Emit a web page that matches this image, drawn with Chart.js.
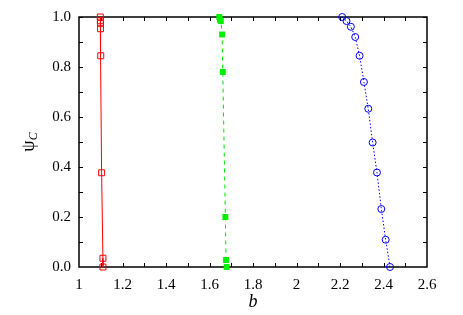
<!DOCTYPE html>
<html>
<head>
<script src="https://cdn.jsdelivr.net/npm/chart.js@4.4.0/dist/chart.umd.min.js"></script>
</head>
<body style="margin:0">
<canvas id="psiChart" width="463" height="315"></canvas>
<script>
// datos
const redB   = [1.098, 1.098, 1.099, 1.099, 1.100, 1.104, 1.110, 1.110];
const redPsi = [1.000, 0.985, 0.975, 0.953, 0.845, 0.377, 0.035, 0.000];

const greenB   = [1.645, 1.648, 1.652, 1.658, 1.661, 1.673, 1.676, 1.679];
const greenPsi = [1.000, 0.990, 0.984, 0.930, 0.780, 0.200, 0.028, 0.000];

const blueB   = [2.21, 2.23, 2.25, 2.27, 2.29, 2.31, 2.33, 2.35, 2.37, 2.39, 2.41, 2.43];
const bluePsi = [1.000, 0.984, 0.961, 0.920, 0.845, 0.740, 0.633, 0.498, 0.378, 0.232, 0.109, 0.000];

const xTicks = [1, 1.2, 1.4, 1.6, 1.8, 2, 2.2, 2.4, 2.6];
const yTicks = [0.0, 0.2, 0.4, 0.6, 0.8, 1.0];

const FONT = 'Liberation Serif, serif';

function puntos(xs, ys) {
    return xs.map((x, i) => ({ x: x, y: ys[i] }));
}

// ticks hacia adentro en los cuatro lados + titulos de ejes
const marcoPlugin = {
    id: 'marco',
    beforeDatasetsDraw(chart) {
        const ctx = chart.ctx;
        const a = chart.chartArea;
        const xs = chart.scales.x;
        const ys = chart.scales.y;
        ctx.save();
        ctx.strokeStyle = '#000';
        ctx.lineWidth = 1;
        ctx.beginPath();
        for (let v = 1.1; v < 2.6; v += 0.1) {
            const px = Math.round(xs.getPixelForValue(v)) + 0.5;
            ctx.moveTo(px, a.bottom); ctx.lineTo(px, a.bottom - 4);
            ctx.moveTo(px, a.top); ctx.lineTo(px, a.top + 4);
        }
        for (let v = 0.1; v < 1.0; v += 0.1) {
            const py = Math.round(ys.getPixelForValue(v)) + 0.5;
            ctx.moveTo(a.left, py); ctx.lineTo(a.left + 4, py);
            ctx.moveTo(a.right, py); ctx.lineTo(a.right - 4, py);
        }
        ctx.stroke();
        ctx.lineWidth = 1.5;
        ctx.strokeRect(a.left, a.top, a.right - a.left, a.bottom - a.top);
        ctx.restore();
    },
    afterDraw(chart) {
        const ctx = chart.ctx;
        const a = chart.chartArea;
        ctx.save();
        ctx.fillStyle = '#000';
        // titulo eje x
        ctx.font = 'italic 18px ' + FONT;
        ctx.textAlign = 'center';
        ctx.textBaseline = 'middle';
        ctx.fillText('b', (a.left + a.right) / 2, 302);
        // titulo eje y: psi con subindice C
        ctx.translate(29, (a.top + a.bottom) / 2);
        ctx.rotate(-Math.PI / 2);
        ctx.textAlign = 'left';
        ctx.font = '18px ' + FONT;
        const w1 = ctx.measureText('\u03C8').width;
        ctx.font = 'italic 12px ' + FONT;
        const w2 = ctx.measureText('C').width;
        const x0 = -(w1 + w2) / 2;
        ctx.font = '18px ' + FONT;
        ctx.fillText('\u03C8', x0, 0);
        ctx.font = 'italic 12px ' + FONT;
        ctx.fillText('C', x0 + w1, 5);
        ctx.restore();
    }
};

const psiChart = new Chart(document.getElementById('psiChart').getContext('2d'), {
    type: 'scatter',
    data: {
        datasets: [{
            data: puntos(redB, redPsi),
            showLine: true,
            clip: false,
            borderColor: '#ff0000',
            borderWidth: 1,
            pointStyle: 'rect',
            pointRadius: 4.2,
            pointBorderWidth: 1,
            pointBorderColor: '#ff0000',
            pointBackgroundColor: 'rgba(0,0,0,0)'
        }, {
            data: puntos(greenB, greenPsi),
            showLine: true,
            clip: false,
            borderColor: '#00e000',
            borderWidth: 1,
            borderDash: [4, 4],
            pointStyle: 'rect',
            pointRadius: 4.2,
            pointBorderWidth: 0,
            pointBackgroundColor: '#00ee00'
        }, {
            data: puntos(blueB, bluePsi),
            showLine: true,
            clip: false,
            borderColor: '#0000ff',
            borderWidth: 1,
            borderDash: [1.5, 2],
            pointStyle: 'circle',
            pointRadius: 3.5,
            pointBorderWidth: 1,
            pointBorderColor: '#0000ff',
            pointBackgroundColor: 'rgba(0,0,0,0)'
        }]
    },
    options: {
        responsive: false,
        animation: false,
        layout: { padding: { left: 0, right: 36, top: 16, bottom: 0 } },
        plugins: {
            legend: { display: false },
            tooltip: { enabled: false }
        },
        scales: {
            x: {
                type: 'linear',
                min: 1,
                max: 2.6,
                afterBuildTicks: s => { s.ticks = xTicks.map(v => ({ value: v })); },
                afterFit: s => { s.height = 48; },
                grid: { display: false, drawTicks: false },
                border: { display: false },
                ticks: {
                    color: '#000',
                    padding: 9,
                    font: { family: FONT, size: 15 },
                    callback: v => String(+v.toFixed(1))
                }
            },
            y: {
                type: 'linear',
                min: 0,
                max: 1,
                afterBuildTicks: s => { s.ticks = yTicks.map(v => ({ value: v })); },
                afterFit: s => { s.width = 79; },
                grid: { display: false, drawTicks: false },
                border: { display: false },
                ticks: {
                    color: '#000',
                    padding: 8,
                    font: { family: FONT, size: 15 },
                    callback: v => v.toFixed(1)
                }
            }
        }
    },
    plugins: [marcoPlugin]
});
</script>
</body>
</html>
